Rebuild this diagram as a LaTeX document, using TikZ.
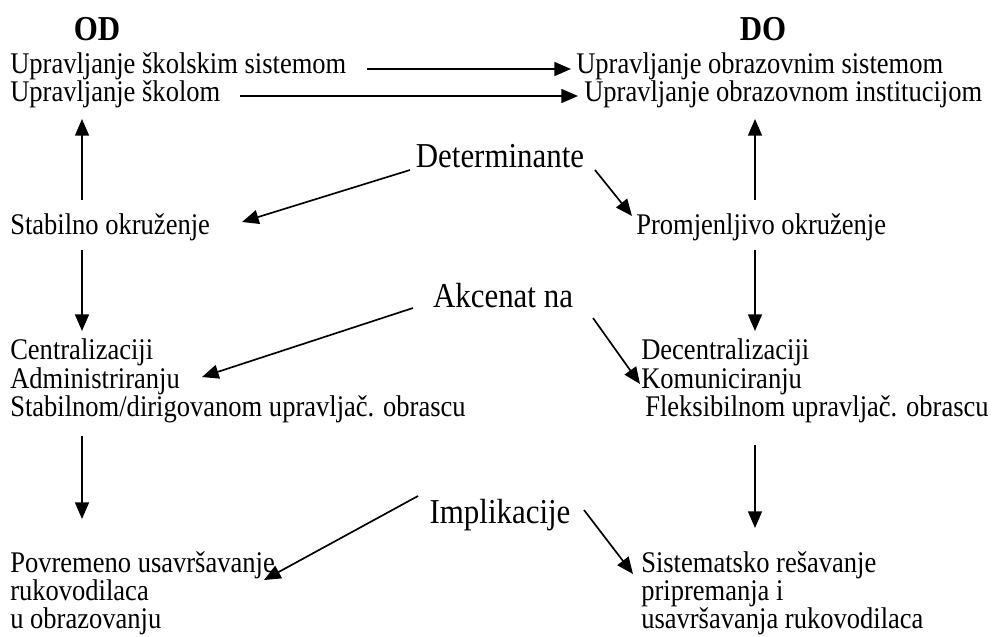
\documentclass[tikz,border=0pt]{standalone}
\usepackage{fontspec}
\setmainfont{Liberation Serif}
\usetikzlibrary{arrows.meta}
\newcommand{\vstretch}[1]{\scalebox{1}[1.13]{#1}}
\begin{document}
\begin{tikzpicture}[x=0.75pt,y=-0.75pt,
 txt/.style={anchor=base west,inner sep=0pt,font=\fontsize{19.9}{24}\selectfont},
 big/.style={anchor=base,inner sep=0pt,font=\fontsize{23.2}{28}\selectfont},
 hd/.style={anchor=base,inner sep=0pt,font=\fontsize{23.2}{28}\selectfont\bfseries},
 arr/.style={-{Triangle[length=12.5pt,width=10.5pt]},line width=1.25pt}]
\useasboundingbox (0,0) rectangle (993,636);
% headings
\node[hd] (od) at (97,40) {\vstretch{OD}};
\node[hd] (dO) at (763,40) {\vstretch{DO}};
% top rows
\node[txt] (l1) at (10,73) {\vstretch{Upravljanje školskim sistemom}};
\node[txt] (l2) at (10,101) {\vstretch{Upravljanje školom}};
\node[txt] (r1) at (576,73) {\vstretch{Upravljanje obrazovnim sistemom}};
\node[txt] (r2) at (584,101) {\vstretch{Upravljanje obrazovnom institucijom}};
\coordinate (a1s) at (367,69); \coordinate (a1e) at (571,69);
\coordinate (a2s) at (240,96); \coordinate (a2e) at (578,96);
\draw[arr] (a1s) -- (a1e);
\draw[arr] (a2s) -- (a2e);
% determinante
\node[big] (det) at (500,167) {\vstretch{Determinante}};
\node[txt] (stab) at (10,234) {\vstretch{Stabilno okruženje}};
\node[txt] (prom) at (636,234) {\vstretch{Promjenljivo okruženje}};
\coordinate (d1s) at (410,170); \coordinate (d1e) at (242,222);
\coordinate (d2s) at (595,170); \coordinate (d2e) at (632,216);
\draw[arr] (d1s) -- (d1e);
\draw[arr] (d2s) -- (d2e);
% vertical up arrows
\coordinate (u1s) at (82,200); \coordinate (u1e) at (82,119);
\coordinate (u2s) at (755,200); \coordinate (u2e) at (755,119);
\draw[arr] (u1s) -- (u1e);
\draw[arr] (u2s) -- (u2e);
% vertical down arrows (middle)
\coordinate (m1s) at (82,250); \coordinate (m1e) at (82,331);
\coordinate (m2s) at (755,250); \coordinate (m2e) at (755,331);
\draw[arr] (m1s) -- (m1e);
\draw[arr] (m2s) -- (m2e);
% akcenat
\node[big] (akc) at (503,307) {\vstretch{Akcenat na}};
\node[txt] (c1) at (10,359) {\vstretch{Centralizaciji}};
\node[txt] (c2) at (10,388) {\vstretch{Administriranju}};
\node[txt] (c3) at (10,416) {\vstretch{Stabilnom/dirigovanom upravljač. obrascu}};
\node[txt] (e1) at (641,359) {\vstretch{Decentralizaciji}};
\node[txt] (e2) at (641,388) {\vstretch{Komuniciranju}};
\node[txt] (e3) at (645,416) {\vstretch{Fleksibilnom upravljač. obrascu}};
\coordinate (k1s) at (413,308); \coordinate (k1e) at (202,377);
\coordinate (k2s) at (593,318); \coordinate (k2e) at (640,384);
\draw[arr] (k1s) -- (k1e);
\draw[arr] (k2s) -- (k2e);
% vertical down arrows (bottom)
\coordinate (b1s) at (82,436); \coordinate (b1e) at (82,519);
\coordinate (b2s) at (755,445); \coordinate (b2e) at (755,528);
\draw[arr] (b1s) -- (b1e);
\draw[arr] (b2s) -- (b2e);
% implikacije
\node[big] (imp) at (500,523) {\vstretch{Implikacije}};
\node[txt] (p1) at (10,572) {\vstretch{Povremeno usavršavanje}};
\node[txt] (p2) at (10,600) {\vstretch{rukovodilaca}};
\node[txt] (p3) at (10,628) {\vstretch{u obrazovanju}};
\node[txt] (s1) at (641,572) {\vstretch{Sistematsko rešavanje}};
\node[txt] (s2) at (641,600) {\vstretch{pripremanja i}};
\node[txt] (s3) at (641,628) {\vstretch{usavršavanja rukovodilaca}};
\coordinate (i1s) at (418,496); \coordinate (i1e) at (264,580);
\coordinate (i2s) at (584,510); \coordinate (i2e) at (633,574);
\draw[arr] (i1s) -- (i1e);
\draw[arr] (i2s) -- (i2e);
\end{tikzpicture}
\end{document}
